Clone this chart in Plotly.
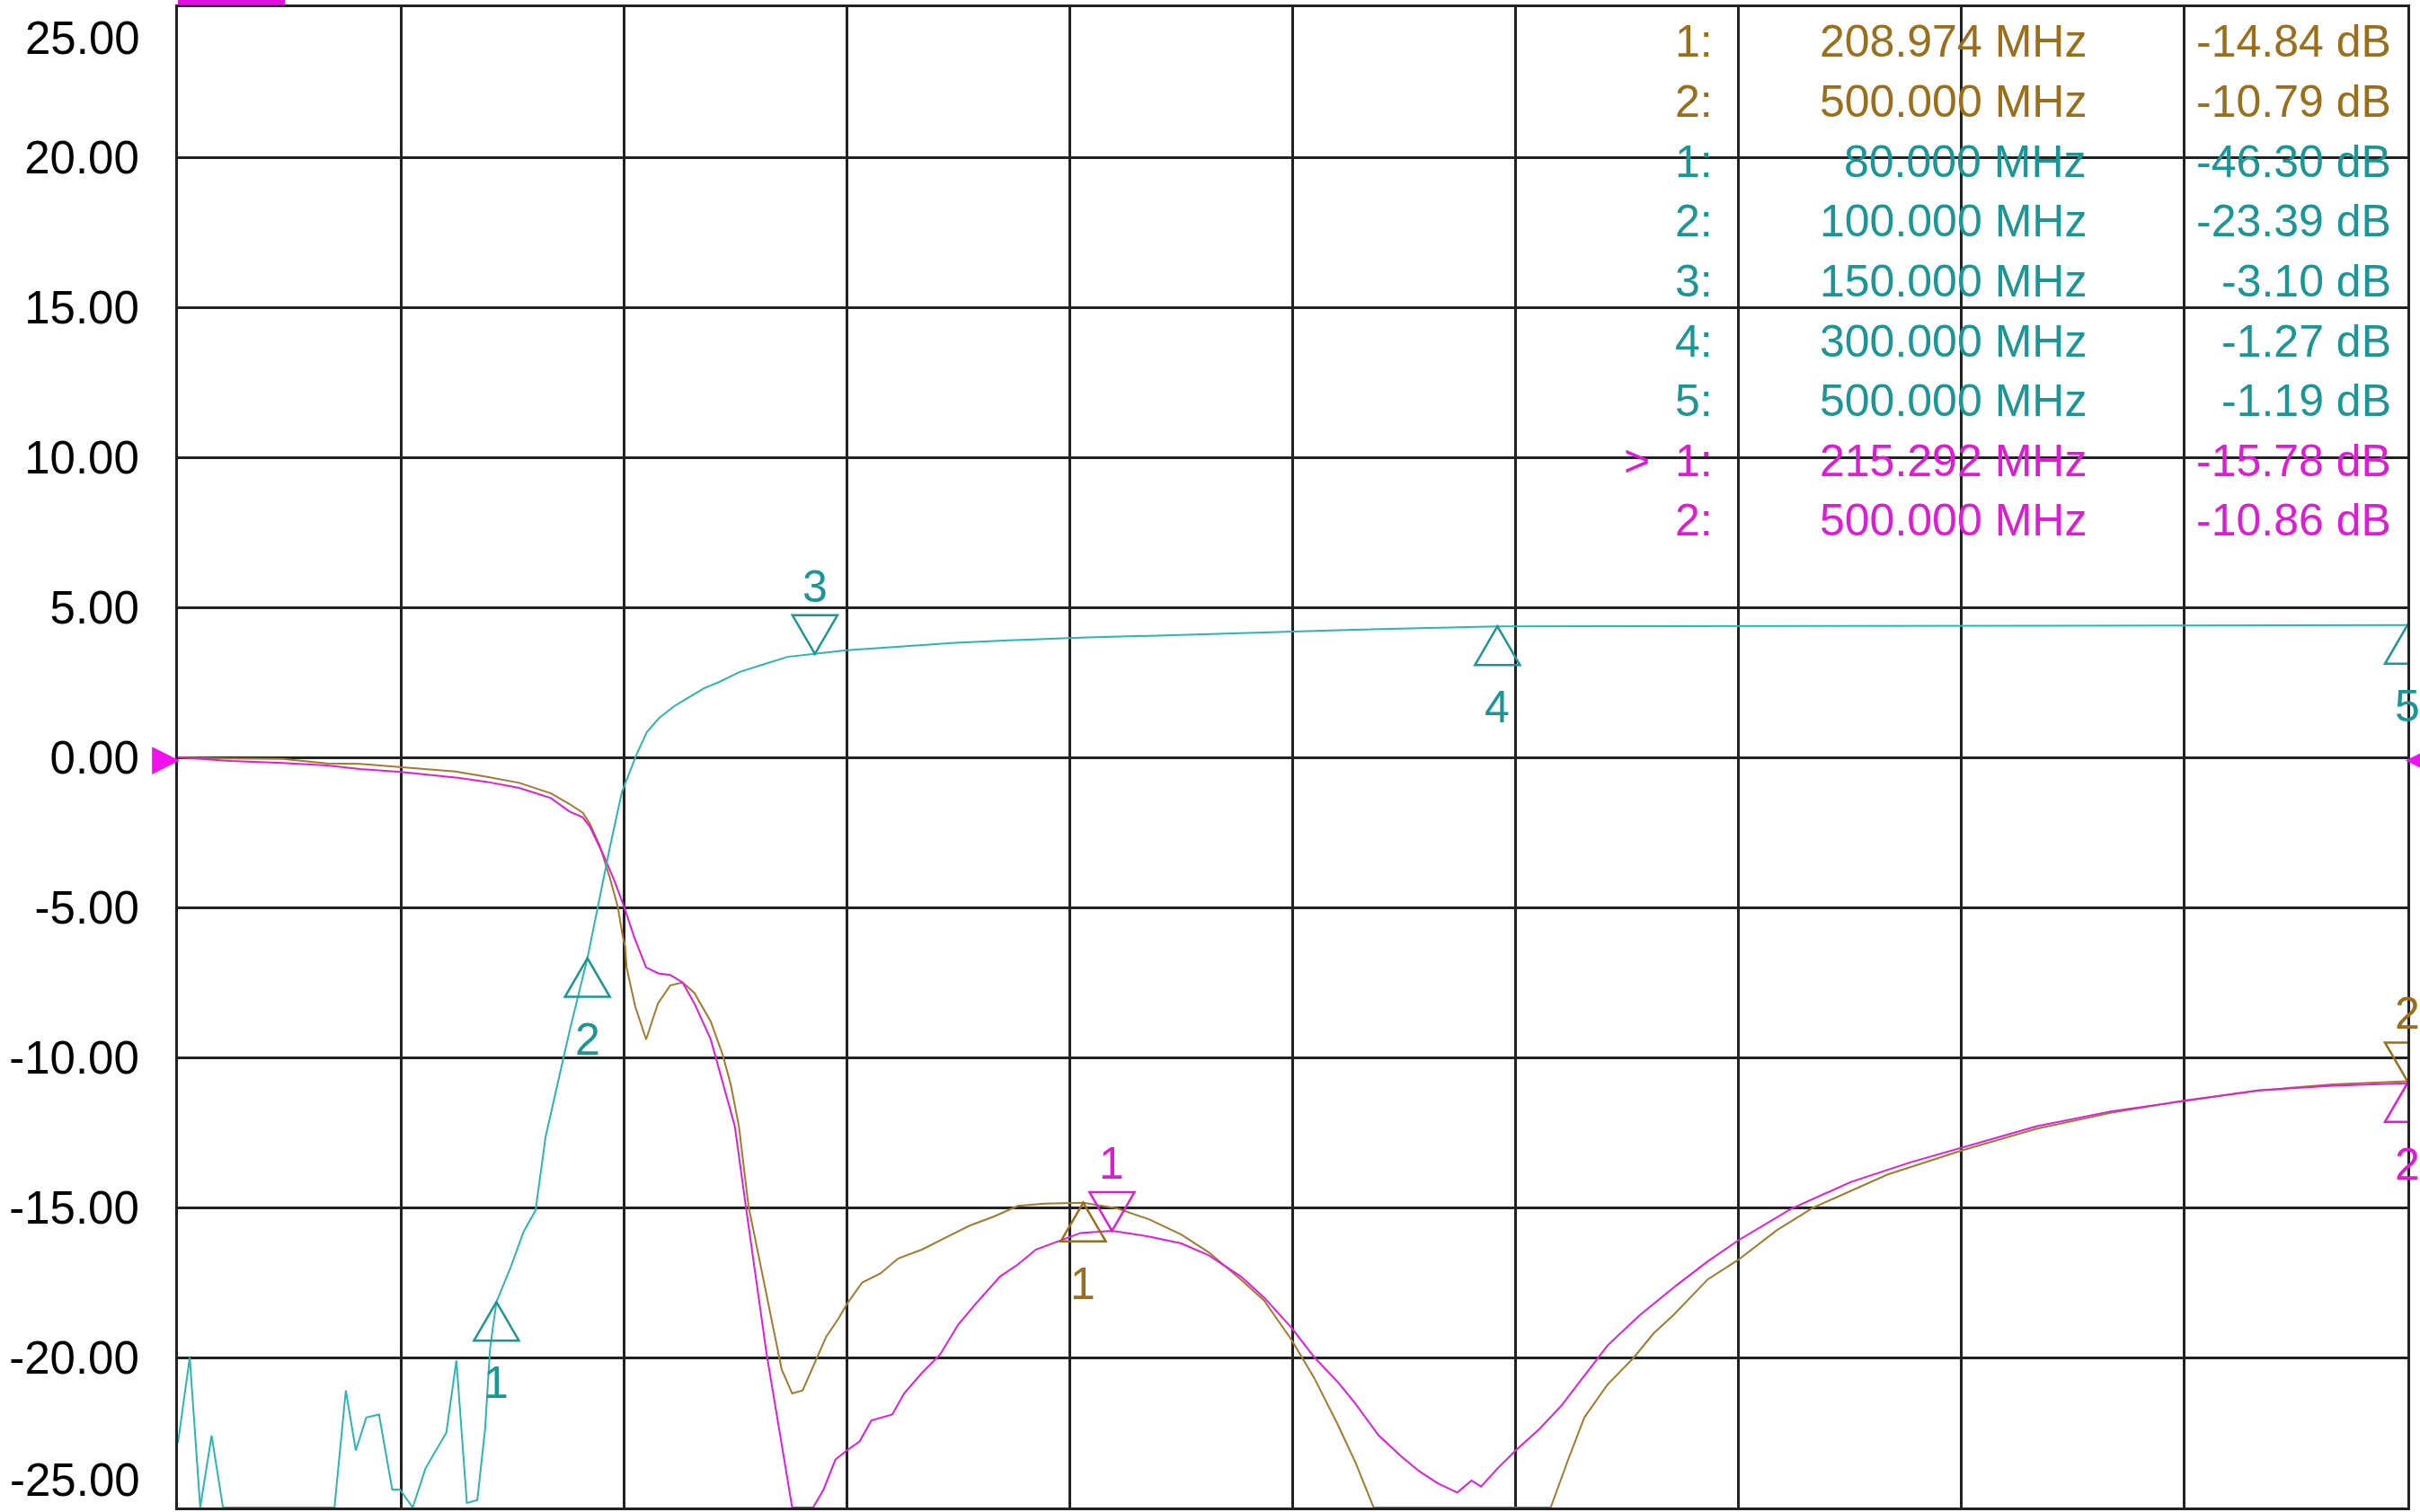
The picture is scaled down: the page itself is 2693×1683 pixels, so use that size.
import plotly.graph_objects as go

# ---------------- data (MHz, dB) ----------------
brown_freq = [10, 21.7, 33, 42.8, 50, 59, 71, 78, 85, 92, 96, 99, 100.5, 102.7, 104.9, 106.7,
              107.8, 108.3, 108.6, 110.5, 112.9, 115.5, 118.2, 120.9, 123.5, 127.1, 129.7, 131.5,
              133.3, 135.4, 138.1, 140.7, 142.7, 145, 147.3, 149.9, 152.5, 155.2, 157.1, 160.4,
              164.4, 168.3, 173.6, 178.8, 184.1, 189.4, 194.6, 200.5, 208.97, 216.4, 223.5, 230.5,
              236.6, 243.6, 248.7, 254.7, 259.8, 264.8, 268.8, 272.8, 311.7, 315.8, 319.1, 324.2,
              330, 334.3, 338.6, 346.2, 352.9, 361.4, 369.5, 385.8, 402.1, 418.4, 434.7, 451,
              467.3, 483.6, 500]
brown_db = [0, -0.04, -0.05, -0.2, -0.22, -0.32, -0.47, -0.65, -0.85, -1.2, -1.55, -1.85, -2.2,
            -2.94, -4.0, -5.0, -6.0, -6.3, -7.0, -8.3, -9.4, -8.2, -7.6, -7.5, -7.85, -8.8, -9.9,
            -10.9, -12.3, -14.95, -17.0, -18.9, -20.4, -21.2, -21.1, -20.2, -19.3, -18.7, -18.2,
            -17.5, -17.2, -16.7, -16.4, -16.0, -15.6, -15.3, -14.95, -14.87, -14.84, -15.03, -15.4,
            -15.9, -16.5, -17.4, -18.1, -19.4, -20.7, -22.2, -23.5, -25, -25, -23.3, -22.0, -20.9,
            -20.0, -19.2, -18.6, -17.4, -16.75, -15.76, -15.0, -13.9, -13.1, -12.38, -11.85, -11.44,
            -11.1, -10.9, -10.79]

magenta_freq = [10, 21.7, 33, 42.8, 50, 59, 71, 78, 85, 92, 96, 99, 100.5, 103.2, 105.9, 108.1,
                110.3, 112.9, 115.6, 118.2, 120.9, 123.5, 127.1, 129.7, 132.4, 134.8, 139.4, 142.7,
                145, 149.6, 151.9, 154.5, 157, 159.8, 162.4, 167, 169.6, 173.6, 177.5, 181.5, 185.4,
                190.7, 194.6, 198.6, 203.8, 208.4, 215.29, 223.5, 230.5, 236.6, 243.6, 248.7, 254.7,
                259.8, 264.8, 268.6, 273.9, 278.9, 282.9, 287, 291.2, 294.3, 296.4, 300, 304, 309.1,
                314.1, 319.1, 324.2, 331.2, 339.3, 346.2, 352.9, 364.6, 377.7, 390.7, 402.1, 418.4,
                434.7, 451, 467.3, 483.6, 500]
magenta_db = [0, -0.12, -0.19, -0.27, -0.39, -0.49, -0.67, -0.82, -1.02, -1.36, -1.8, -2.0, -2.3,
              -3.15, -4.1, -5.0, -6.0, -7.0, -7.2, -7.25, -7.5, -8.2, -9.4, -10.8, -12.3, -14.95,
              -19.9, -22.9, -25, -25, -24.4, -23.4, -23.1, -22.8, -22.1, -21.9, -21.2, -20.5, -19.9,
              -18.9, -18.2, -17.3, -16.9, -16.4, -16.1, -15.85, -15.78, -15.97, -16.2, -16.6, -17.3,
              -18.0, -19.0, -20.0, -20.8, -21.5, -22.6, -23.3, -23.8, -24.2, -24.5, -24.1, -24.3,
              -23.7, -23.1, -22.4, -21.6, -20.6, -19.6, -18.6, -17.6, -16.8, -16.1, -15.04, -14.15,
              -13.5, -13.0, -12.3, -11.8, -11.44, -11.1, -10.94, -10.86]

# teal trace (its own 10 dB/div scale, -60 .. 40 dB)
teal_freq = [10, 12.6, 14.9, 17.4, 19.9, 44.4, 46.9, 49.1, 51.4, 54.2, 57.1, 58.8, 61.6, 64.4, 69,
             71.2, 73.5, 75.8, 77.5, 78.6, 80, 83.1, 86, 88.6, 90.8, 93.5, 96.1, 100, 102.3, 105,
             107.6, 108.5, 110.8, 113.1, 115.7, 119, 122.3, 125.6, 128.8, 133.5, 138.7, 144, 150,
             157, 168.7, 180, 191.4, 208.4, 225.4, 242.4, 265.1, 300, 350, 400, 450, 500]
teal_db = [-55.7, -50.0, -60, -55.2, -60, -60, -52.2, -56.2, -54.0, -53.8, -58.8, -58.8, -60, -57.4,
           -55.0, -50.2, -59.7, -59.5, -54.8, -49.4, -46.3, -44.0, -41.6, -40.2, -35.3, -31.6, -28.2,
           -23.39, -20.0, -15.9, -12.3, -11.6, -9.8, -8.3, -7.4, -6.6, -6.0, -5.4, -5.0, -4.3, -3.8,
           -3.3, -3.10, -2.86, -2.62, -2.38, -2.22, -2.02, -1.88, -1.72, -1.52, -1.27, -1.24, -1.22,
           -1.20, -1.19]

# markers
brown_mk_no = ["1", "2"]
brown_mk_freq = [208.974, 500.000]
brown_mk_db = [-14.84, -10.79]
brown_mk_dir = ["up", "down"]

teal_mk_no = ["1", "2", "3", "4", "5"]
teal_mk_freq = [80.000, 100.000, 150.000, 300.000, 500.000]
teal_mk_db = [-46.30, -23.39, -3.10, -1.27, -1.19]
teal_mk_dir = ["up", "up", "down", "up", "up"]

magenta_mk_no = ["1", "2"]
magenta_mk_freq = [215.292, 500.000]
magenta_mk_db = [-15.78, -10.86]
magenta_mk_dir = ["down", "up"]

y_tick_vals = [-25, -20, -15, -10, -5, 0, 5, 10, 15, 20, 25]

# ---------------- style ----------------
BROWN_LINE = "#A37A2E"
BROWN_TXT = "#9B6E19"
TEAL_LINE = "#2DB4B4"
TEAL_TXT = "#1A9696"
MAG_LINE = "#E21CDC"
MAG_TXT = "#E01BD6"
GRID = "#222222"
FONT = "Liberation Sans, Arial, sans-serif"

fig = go.Figure()
fig.add_trace(go.Scatter(x=teal_freq, y=teal_db, mode="lines", yaxis="y2",
                         line=dict(color=TEAL_LINE, width=2)))
fig.add_trace(go.Scatter(x=brown_freq, y=brown_db, mode="lines",
                         line=dict(color=BROWN_LINE, width=2)))
fig.add_trace(go.Scatter(x=magenta_freq, y=magenta_db, mode="lines",
                         line=dict(color=MAG_LINE, width=2)))

shapes = []
annotations = []

TRI_UP = "M0,0 L-25,-43 L25,-43 Z"     # apex on the trace, triangle below
TRI_DOWN = "M0,0 L-25,43 L25,43 Z"     # apex on the trace, triangle above


def add_markers(nos, freqs, dbs, dirs, color, yref):
    for n, f, v, d in zip(nos, freqs, dbs, dirs):
        shapes.append(dict(type="path", xref="x", yref=yref, xsizemode="pixel",
                           ysizemode="pixel", xanchor=f, yanchor=v,
                           path=TRI_UP if d == "up" else TRI_DOWN,
                           line=dict(color=color, width=2.5),
                           fillcolor="rgba(0,0,0,0)", layer="above"))
        annotations.append(dict(x=f, y=v, xref="x", yref=yref, text=n, showarrow=False,
                                yshift=-90 if d == "up" else 75,
                                font=dict(family=FONT, size=50, color=color)))


add_markers(brown_mk_no, brown_mk_freq, brown_mk_db, brown_mk_dir, BROWN_TXT, "y")
add_markers(teal_mk_no, teal_mk_freq, teal_mk_db, teal_mk_dir, TEAL_TXT, "y2")
add_markers(magenta_mk_no, magenta_mk_freq, magenta_mk_db, magenta_mk_dir, MAG_TXT, "y")

# reference-level arrows
annotations.append(dict(x=10, y=0, xref="x", yref="y", text="\u25B6", showarrow=False,
                        xanchor="right", yanchor="middle", xshift=4,
                        font=dict(family="DejaVu Sans", size=40, color="#F010F0")))
annotations.append(dict(x=500, y=0, xref="x", yref="y", text="\u25C0", showarrow=False,
                        xanchor="left", yanchor="middle", xshift=-4,
                        font=dict(family="DejaVu Sans", size=40, color="#F010F0")))

# end tick labels (drawn inside the span like the instrument does)
annotations.append(dict(x=0, y=25, xref="paper", yref="y", text=f"{25:.2f}", showarrow=False,
                        xanchor="right", yanchor="top", xshift=-40, yshift=-4,
                        font=dict(family=FONT, size=51, color="black")))
annotations.append(dict(x=0, y=-25, xref="paper", yref="y", text=f"{-25:.2f}", showarrow=False,
                        xanchor="right", yanchor="bottom", xshift=-40,
                        font=dict(family=FONT, size=51, color="black")))

# marker readout table
rows = []
for n, f, v in zip(brown_mk_no, brown_mk_freq, brown_mk_db):
    rows.append((f"{n}:", f, v, BROWN_TXT))
for n, f, v in zip(teal_mk_no, teal_mk_freq, teal_mk_db):
    rows.append((f"{n}:", f, v, TEAL_TXT))
for i, (n, f, v) in enumerate(zip(magenta_mk_no, magenta_mk_freq, magenta_mk_db)):
    rows.append(((">  " if i == 0 else "") + f"{n}:", f, v, MAG_TXT))

col_x = [0.6892, 0.8569, 0.9936]
row_y0 = 0.9770
row_dy = 0.0399
for i, (lab, f, v, c) in enumerate(rows):
    y = row_y0 - i * row_dy
    for cx, txt in zip(col_x, [lab, f"{f:.3f} MHz", f"{v:.2f} dB"]):
        annotations.append(dict(x=cx, y=y, xref="paper", yref="paper", text=txt,
                                showarrow=False, xanchor="right", yanchor="middle",
                                font=dict(family=FONT, size=50, color=c)))

# clipped magenta tab at the very top
shapes.append(dict(type="rect", xref="paper", yref="paper", x0=0.0, x1=0.048,
                   y0=1.0013, y1=1.006, line=dict(width=0), fillcolor="#E010E0"))

fig.update_layout(
    width=2693, height=1683,
    margin=dict(l=198, r=14, t=5, b=5),
    paper_bgcolor="white", plot_bgcolor="white",
    showlegend=False,
    shapes=shapes, annotations=annotations,
    xaxis=dict(range=[10, 500], tick0=10, dtick=49, showgrid=True, gridcolor=GRID,
               gridwidth=3, showticklabels=False, zeroline=False, showline=True,
               mirror=True, linecolor=GRID, linewidth=3, ticks=""),
    yaxis=dict(range=[-25, 25], tickvals=y_tick_vals,
               ticktext=["" if abs(v) == 25 else f"{v:.2f}" for v in y_tick_vals],
               showgrid=True, gridcolor=GRID, gridwidth=3, zeroline=False,
               showline=True, mirror=True, linecolor=GRID, linewidth=3, ticks="",
               ticklabelstandoff=30,
               tickfont=dict(family=FONT, size=51, color="black")),
    yaxis2=dict(range=[-60, 40], overlaying="y", visible=False),
)

fig.write_html("out.html", config={"displayModeBar": False},
               post_script="document.body.style.margin='0px';document.body.style.overflow='hidden';")
